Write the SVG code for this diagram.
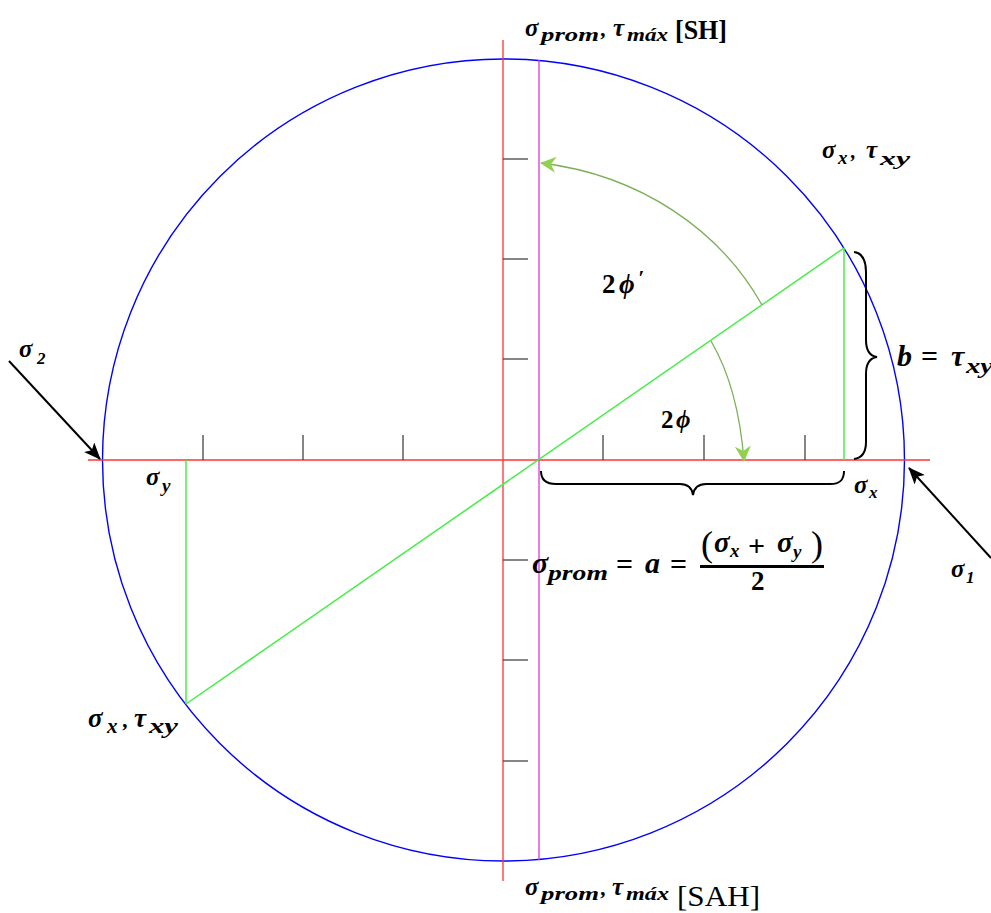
<svg xmlns="http://www.w3.org/2000/svg" width="991" height="913" viewBox="0 0 991 913">
<style>
.m{font-family:"Liberation Serif","DejaVu Serif",serif;font-style:italic;font-weight:bold;fill:#000}
.u{font-family:"Liberation Serif","DejaVu Serif",serif;font-weight:bold;fill:#000}
.r{font-family:"Liberation Serif","DejaVu Serif",serif;fill:#000}
.ax{stroke:#FF3333;stroke-width:1.3;fill:none}
.ax2{stroke:#E033E0;stroke-width:1.3;fill:none}
.tick{stroke:#444;stroke-width:1.3}
.grn{stroke:#44EE44;stroke-width:1.5;fill:none}
.arc{stroke:#7DAF5A;stroke-width:1.3;fill:none}
.brace{stroke:#000;stroke-width:2;fill:none}
.blk{stroke:#000;stroke-width:2;fill:none}
.circ{stroke:#0000FF;stroke-width:1.4;fill:none}
</style>
<defs>
<marker id="ab" markerWidth="17" markerHeight="14" refX="16" refY="7" orient="auto" markerUnits="userSpaceOnUse"><path d="M0,0 L17,7 L0,14 L4,7 Z" fill="#000"/></marker>
<marker id="ag" markerWidth="16" markerHeight="16" refX="15" refY="8" orient="auto" markerUnits="userSpaceOnUse"><path d="M0,0 L16,8 L0,16 L5,8 Z" fill="#92D050"/></marker>
</defs>
<rect width="991" height="913" fill="#fff"/>

<g id="circle"><circle class="circ" cx="503.5" cy="460" r="401"/></g>

<g id="axes">
<line class="ax" x1="88" y1="460" x2="930" y2="460"/>
<line class="ax" x1="503" y1="40" x2="503" y2="881"/>
<line class="ax2" x1="539" y1="60" x2="539" y2="860"/>
<g class="tick">
<line x1="203" y1="435" x2="203" y2="460"/><line x1="303" y1="435" x2="303" y2="460"/><line x1="403" y1="435" x2="403" y2="460"/>
<line x1="603" y1="435" x2="603" y2="460"/><line x1="704" y1="435" x2="704" y2="460"/><line x1="805" y1="435" x2="805" y2="460"/>
<line x1="503" y1="159" x2="528" y2="159"/><line x1="503" y1="259" x2="528" y2="259"/><line x1="503" y1="359" x2="528" y2="359"/>
<line x1="503" y1="560" x2="528" y2="560"/><line x1="503" y1="660" x2="528" y2="660"/><line x1="503" y1="761" x2="528" y2="761"/>
</g>
</g>

<g id="connectors">
<line class="grn" x1="186" y1="704" x2="844" y2="248"/>
<line class="grn" x1="844" y1="248" x2="844" y2="460"/>
<line class="grn" x1="186" y1="460" x2="186" y2="704"/>
<path class="arc" d="M762,305 C720,230 640,175 541,163" marker-end="url(#ag)"/>
<path class="arc" d="M711,341 C728,370 740,410 744,461" marker-end="url(#ag)"/>
<line class="blk" x1="9" y1="361" x2="100" y2="459" marker-end="url(#ab)"/>
<line class="blk" x1="991" y1="558" x2="909" y2="468" marker-end="url(#ab)"/>
<path class="brace" d="M854,252 C862,253 866,260 866,272 L866,340 C866,350 870,356 877,357 C870,358 866,364 866,374 L866,442 C866,452 862,458 854,459"/>
<path class="brace" d="M541,471 C541,480 546,484 556,484 L680,484 C688,484 692,488 693,495 C694,488 698,484 706,484 L830,484 C840,484 844,480 844,471"/>
</g>

<g id="label-top">
<text class="m"><tspan x="525" y="36" font-size="25">σ</tspan><tspan x="541" y="41" font-size="19" textLength="58" lengthAdjust="spacingAndGlyphs">prom</tspan><tspan x="601" y="36" font-size="22">,</tspan><tspan x="613" y="36" font-size="25">τ</tspan><tspan x="627" y="41" font-size="19" textLength="41" lengthAdjust="spacingAndGlyphs">máx</tspan></text>
<text class="u" x="675" y="39" font-size="28" textLength="52" lengthAdjust="spacingAndGlyphs">[SH]</text>
</g>

<g id="label-bottom">
<text class="m"><tspan x="525" y="895" font-size="25">σ</tspan><tspan x="541" y="900" font-size="19" textLength="58" lengthAdjust="spacingAndGlyphs">prom</tspan><tspan x="601" y="895" font-size="22">,</tspan><tspan x="612" y="895" font-size="25">τ</tspan><tspan x="626" y="900" font-size="19" textLength="43" lengthAdjust="spacingAndGlyphs">máx</tspan></text>
<text class="r" x="677" y="906" font-size="30" textLength="83" lengthAdjust="spacingAndGlyphs">[SAH]</text>
</g>

<g id="label-point-top">
<text class="m"><tspan x="822" y="158" font-size="25">σ</tspan><tspan x="838" y="164" font-size="19">x</tspan><tspan x="851" y="158" font-size="20">,</tspan><tspan x="866" y="158" font-size="25">τ</tspan><tspan x="880" y="165" font-size="19" textLength="30" lengthAdjust="spacingAndGlyphs">xy</tspan></text>
</g>

<g id="label-point-bottom">
<text class="m"><tspan x="88" y="727" font-size="27">σ</tspan><tspan x="107" y="733" font-size="21">x</tspan><tspan x="123" y="727" font-size="22">,</tspan><tspan x="134" y="727" font-size="27">τ</tspan><tspan x="149" y="733" font-size="21" textLength="29" lengthAdjust="spacingAndGlyphs">xy</tspan></text>
</g>

<g id="label-b">
<text class="m"><tspan x="897" y="366" font-size="30">b</tspan><tspan x="921" y="366" font-size="30" font-style="normal">=</tspan><tspan x="951" y="366" font-size="30">τ</tspan><tspan x="966" y="373" font-size="22" textLength="27" lengthAdjust="spacingAndGlyphs">xy</tspan></text>
</g>

<g id="label-2phi-prime">
<text class="m"><tspan x="602" y="293" font-size="27" font-style="normal">2</tspan><tspan x="619" y="293" font-size="27">ϕ</tspan><tspan x="638" y="285" font-size="22">′</tspan></text>
</g>

<g id="label-2phi">
<text class="m"><tspan x="661" y="428" font-size="25" font-style="normal">2</tspan><tspan x="676" y="428" font-size="25">ϕ</tspan></text>
</g>

<g id="label-sigma2">
<text class="m"><tspan x="19" y="357" font-size="25">σ</tspan><tspan x="37" y="364" font-size="17">2</tspan></text>
</g>

<g id="label-sigma1">
<text class="m"><tspan x="951" y="577" font-size="25">σ</tspan><tspan x="966" y="583" font-size="17">1</tspan></text>
</g>

<g id="label-sigmay">
<text class="m"><tspan x="146" y="485" font-size="25">σ</tspan><tspan x="162" y="492" font-size="19">y</tspan></text>
</g>

<g id="label-sigmax">
<text class="m"><tspan x="854" y="493" font-size="25">σ</tspan><tspan x="869" y="498" font-size="17">x</tspan></text>
</g>

<g id="formula">
<text class="m"><tspan x="532" y="573" font-size="30">σ</tspan><tspan x="548" y="580" font-size="22" textLength="60" lengthAdjust="spacingAndGlyphs">prom</tspan><tspan x="616" y="574" font-size="30" font-style="normal">=</tspan><tspan x="645" y="573" font-size="30">a</tspan><tspan x="670" y="574" font-size="30" font-style="normal">=</tspan></text>
<rect x="700" y="565" width="124" height="3" fill="#000"/>
<text class="m"><tspan x="701" y="556" font-size="36" font-style="normal" font-weight="normal">(</tspan><tspan x="714" y="552" font-size="29">σ</tspan><tspan x="730" y="557" font-size="19">x</tspan><tspan x="748" y="556" font-size="30" font-style="normal">+</tspan><tspan x="777" y="552" font-size="29">σ</tspan><tspan x="793" y="558" font-size="19">y</tspan><tspan x="811" y="556" font-size="36" font-style="normal" font-weight="normal">)</tspan></text>
<text class="u" x="751" y="590" font-size="27">2</text>
</g>
</svg>
